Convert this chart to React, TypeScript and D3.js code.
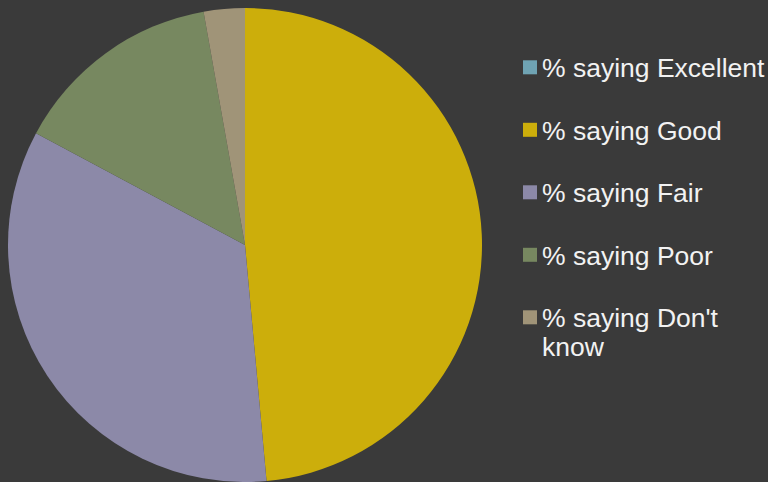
import React, { useEffect, useRef } from "react";
import * as d3 from "d3";

const categories = ["% saying Excellent", "% saying Good", "% saying Fair", "% saying Poor", "% saying Don't know"];
const values = [0, 48.6, 34.3, 14.4, 2.8];
const colors = ["#6fa3b3", "#ccae0b", "#8c89a8", "#778860", "#a09478"];

const W = 768;
const H = 482;

export default function App() {
  const ref = useRef<SVGSVGElement>(null);
  useEffect(() => {
    const svg = d3.select(ref.current);
    svg.selectAll("*").remove();
    svg.append("rect").attr("width", W).attr("height", H).attr("fill", "#3a3a3a");

    const cx = 245, cy = 245, r = 237;
    const data = categories.map((c, i) => ({ c, v: values[i], color: colors[i] }));
    const pie = d3.pie<any>().value((d) => d.v).sort(null);
    const arc = d3.arc<any>().innerRadius(0).outerRadius(r);
    svg.append("g").attr("transform", `translate(${cx},${cy})`)
      .selectAll("path").data(pie(data)).enter().append("path")
      .attr("d", arc).attr("fill", (d: any) => d.data.color);

    const legend = svg.append("g");
    const x0 = 523, textX = 542, y0 = 77.3, step = 62.5, maxW = W - textX - 2;
    data.forEach((d, i) => {
      const by = y0 + i * step;
      legend.append("rect").attr("x", x0).attr("y", by - 17).attr("width", 14).attr("height", 14).attr("fill", d.color);
      const t = legend.append("text").attr("x", textX).attr("y", by)
        .attr("fill", "#f2f2f2").attr("font-family", "Liberation Sans, Arial, sans-serif").attr("font-size", 26.5);
      const words = d.c.split(" ");
      let line: string[] = [];
      let lineNo = 0;
      let ts = t.append("tspan").attr("x", textX).attr("y", by);
      for (const w of words) {
        line.push(w);
        ts.text(line.join(" "));
        if ((ts.node() as SVGTSpanElement).getComputedTextLength() > maxW && line.length > 1) {
          line.pop();
          ts.text(line.join(" "));
          line = [w];
          lineNo++;
          ts = t.append("tspan").attr("x", textX).attr("y", by + lineNo * 29).text(w);
        }
      }
    });
  }, []);
  return <svg ref={ref} width={W} height={H} style={{ display: "block", position: "absolute", left: 0, top: 0 }} />;
}
